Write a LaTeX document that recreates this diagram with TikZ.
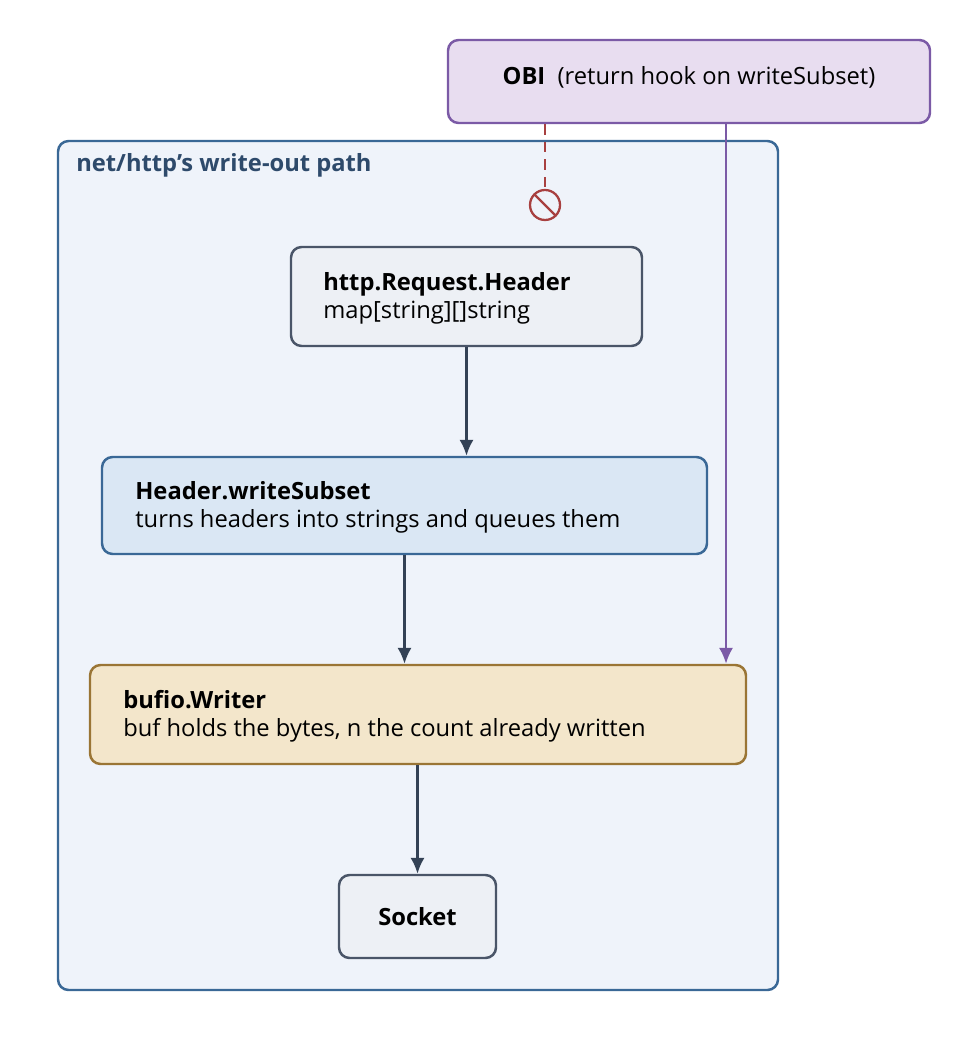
\documentclass[tikz,border=0pt]{standalone}
\usepackage{fontspec}
\setmainfont{Open Sans}
\usetikzlibrary{positioning,arrows.meta,calc}
\definecolor{obifill}{HTML}{E8DDF0}
\definecolor{obiline}{HTML}{7B5AA6}
\definecolor{pathfill}{HTML}{EFF3FA}
\definecolor{pathline}{HTML}{3A6896}
\definecolor{pathtext}{HTML}{2E4A6B}
\definecolor{greyfill}{HTML}{EDF0F5}
\definecolor{greyline}{HTML}{4A5568}
\definecolor{bluefill}{HTML}{DAE7F4}
\definecolor{sandfill}{HTML}{F3E6CB}
\definecolor{sandline}{HTML}{9A7535}
\definecolor{blockred}{HTML}{A84040}
\definecolor{flow}{HTML}{334155}

\begin{document}
\begin{tikzpicture}[
x=0.02cm, y=-0.02cm,
font=\fontsize{13.5}{16}\selectfont,
box/.style={rounded corners=6pt, line width=1.4pt, inner sep=0pt},
lbl/.style={anchor=west, align=left, inner sep=0pt},
flowarrow/.style={->, line width=1.4pt, draw=flow, >={Latex[length=9pt,width=8pt]}}
]
    % Canvas
    \useasboundingbox (0,0) rectangle (969,1047);

    % Container
    \draw[box, fill=pathfill, draw=pathline] (58,141) rectangle (778,990);
    \node[lbl, text=pathtext, font=\fontsize{13.5}{16}\selectfont\bfseries] (title) at (76,165) {net/http's write-out path};

    % OBI hook
    \node[box, draw=obiline, fill=obifill, minimum width=482*0.02cm, minimum height=83*0.02cm] (obi) at (689,81.5) {};
    \node (obitext) at (689,77) {\textbf{OBI}\ \ (return hook on writeSubset)};

    % Boxes
    \node[box, draw=greyline, fill=greyfill, minimum width=351*0.02cm, minimum height=99*0.02cm] (header) at (466.5,296.5) {};
    \node[lbl] (headertext) at (323,298) {\textbf{http.Request.Header}\\map[string][]string};

    \node[box, draw=pathline, fill=bluefill, minimum width=605*0.02cm, minimum height=97*0.02cm] (subset) at (404.5,505.5) {};
    \node[lbl] (subsettext) at (135,507) {\textbf{Header.writeSubset}\\turns headers into strings and queues them};

    \node[box, draw=sandline, fill=sandfill, minimum width=656*0.02cm, minimum height=99*0.02cm] (bufio) at (418,714.5) {};
    \node[lbl] (bufiotext) at (123,716) {\textbf{bufio.Writer}\\buf holds the bytes, n the count already written};

    \node[box, draw=greyline, fill=greyfill, minimum width=157*0.02cm, minimum height=83*0.02cm, font=\fontsize{13.5}{16}\selectfont\bfseries] (socket) at (417.5,916.5) {Socket};

    % Flow
    \draw[flowarrow] (header.south) -- (header.south |- subset.north);
    \draw[flowarrow] (subset.south) -- (subset.south |- bufio.north);
    \draw[flowarrow] (bufio.south -| socket.north) -- (socket.north);
    \draw[flowarrow, draw=obiline] (obi.south -| 726,0) -- (726,0 |- bufio.north);

    % Blocked path
    \coordinate (stop) at (545,205);
    \draw[blockred, line width=1.3pt, dash pattern=on 6pt off 4pt] (obi.south -| stop) -- (545,190);
    \draw[blockred, line width=1.3pt] (stop) circle (15);
    \draw[blockred, line width=1.3pt] ($(stop)+(-10.6,-10.6)$) -- ($(stop)+(10.6,10.6)$);
\end{tikzpicture}
\end{document}
